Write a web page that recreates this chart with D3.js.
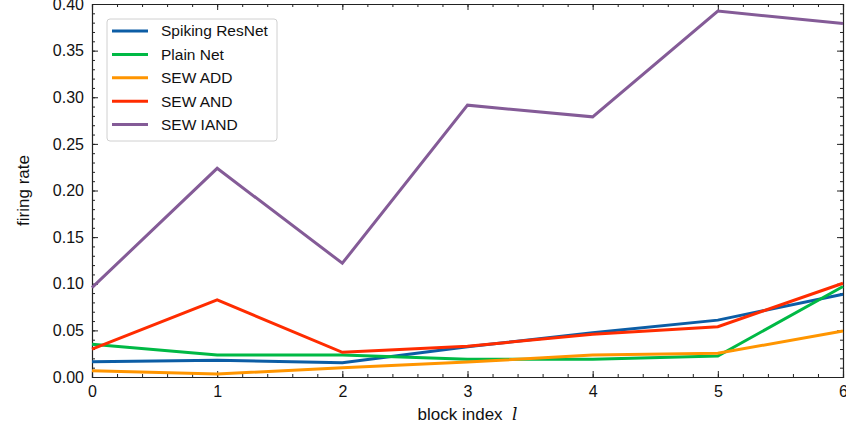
<!DOCTYPE html>
<html>
<head>
<meta charset="utf-8">
<script src="https://cdn.jsdelivr.net/npm/d3@7"></script>
<style>
  body { margin: 0; background: #fff; }
  text { font-family: "Liberation Sans", Arial, sans-serif; fill: #111; }
</style>
</head>
<body>
<div id="chart"></div>
<script>
// block index on the x axis
const blocks = [0, 1, 2, 3, 4, 5, 6];

const spikingResNet = [0.0164, 0.018, 0.0153, 0.0325, 0.0475, 0.061, 0.0887];
const plainNet      = [0.035, 0.0236, 0.0236, 0.019, 0.019, 0.0225, 0.097];
const sewAdd        = [0.0068, 0.0032, 0.010, 0.016, 0.0236, 0.0254, 0.0493];
const sewAnd        = [0.030, 0.0826, 0.0265, 0.033, 0.0458, 0.054, 0.1005];
const sewIand       = [0.0958, 0.2238, 0.122, 0.2915, 0.279, 0.3925, 0.379];

const seriesNames  = ["Spiking ResNet", "Plain Net", "SEW ADD", "SEW AND", "SEW IAND"];
const seriesColors = ["#0C5DA5", "#00B945", "#FF9500", "#FF2C00", "#845B97"];
const yTicks = [0, 0.05, 0.10, 0.15, 0.20, 0.25, 0.30, 0.35, 0.40];

const width = 846, height = 436;
const margin = {top: 4, right: 3, bottom: 59, left: 92};
const w = width - margin.left - margin.right;
const h = height - margin.top - margin.bottom;

const svg = d3.select('#chart').append('svg')
  .attr('width', width)
  .attr('height', height);

const g = svg.append('g')
  .attr('transform', `translate(${margin.left},${margin.top})`);

const x = d3.scaleLinear().domain([0, 6]).range([0, w]);
const y = d3.scaleLinear().domain([0, 0.4]).range([h, 0]);

// inward ticks on all four sides (science style)
const xMinor = d3.range(0, 6.001, 0.2);
const yMinor = d3.range(0, 0.4001, 0.01);

g.append('g').attr('transform', `translate(0,${h})`)
  .call(d3.axisBottom(x).tickValues(xMinor).tickSize(-3).tickFormat(''));
g.append('g').attr('transform', `translate(0,${h})`)
  .call(d3.axisBottom(x).tickValues(blocks).tickSize(-6).tickPadding(9).tickFormat(d3.format('d')));
g.append('g')
  .call(d3.axisTop(x).tickValues(xMinor).tickSize(-3).tickFormat(''));
g.append('g')
  .call(d3.axisTop(x).tickValues(blocks).tickSize(-6).tickFormat(''));

g.append('g')
  .call(d3.axisLeft(y).tickValues(yMinor).tickSize(-3).tickFormat(''));
g.append('g')
  .call(d3.axisLeft(y).tickValues(yTicks).tickSize(-6).tickPadding(8).tickFormat(d3.format('.2f')));
g.append('g').attr('transform', `translate(${w},0)`)
  .call(d3.axisRight(y).tickValues(yMinor).tickSize(-3).tickFormat(''));
g.append('g').attr('transform', `translate(${w},0)`)
  .call(d3.axisRight(y).tickValues(yTicks).tickSize(-6).tickFormat(''));

g.selectAll('.domain').attr('stroke', '#222').attr('stroke-width', 1.1);
g.selectAll('.tick line').attr('stroke', '#222').attr('stroke-width', 1);
g.selectAll('.tick text').style('font-size', '16px').attr('fill', '#111');

// lines
const allSeries = [spikingResNet, plainNet, sewAdd, sewAnd, sewIand];
const line = d3.line()
  .x((d, i) => x(blocks[i]))
  .y(d => y(d));

g.append('g').selectAll('path.series')
  .data(allSeries)
  .enter().append('path')
  .attr('class', 'series')
  .attr('d', d => line(d))
  .attr('fill', 'none')
  .attr('stroke', (d, i) => seriesColors[i])
  .attr('stroke-width', 3)
  .attr('stroke-linejoin', 'miter');

// legend
const legend = g.append('g').attr('transform', 'translate(15,15)');
legend.append('rect')
  .attr('width', 170).attr('height', 122)
  .attr('rx', 3)
  .attr('fill', 'rgba(255,255,255,0.8)')
  .attr('stroke', '#d0d0d0');

const items = legend.selectAll('.item')
  .data(seriesNames)
  .enter().append('g')
  .attr('transform', (d, i) => `translate(0,${12 + i * 23.4})`);
items.append('line')
  .attr('x1', 5).attr('x2', 41)
  .attr('stroke', (d, i) => seriesColors[i])
  .attr('stroke-width', 3);
items.append('text')
  .attr('x', 54).attr('dy', '0.35em')
  .style('font-size', '15.5px')
  .text(d => d);

// axis titles
svg.append('text')
  .attr('transform', `translate(${margin.left - 63},${margin.top + h / 2}) rotate(-90)`)
  .attr('text-anchor', 'middle')
  .style('font-size', '17px')
  .text('firing rate');

const xt = svg.append('text')
  .attr('x', margin.left + w / 2)
  .attr('y', 420)
  .attr('text-anchor', 'middle')
  .style('font-size', '17px');
xt.append('tspan').text('block index\u00a0\u00a0');
xt.append('tspan')
  .attr('font-family', '"DejaVu Serif", serif')
  .style('font-style', 'italic')
  .text('l');
</script>
</body>
</html>
